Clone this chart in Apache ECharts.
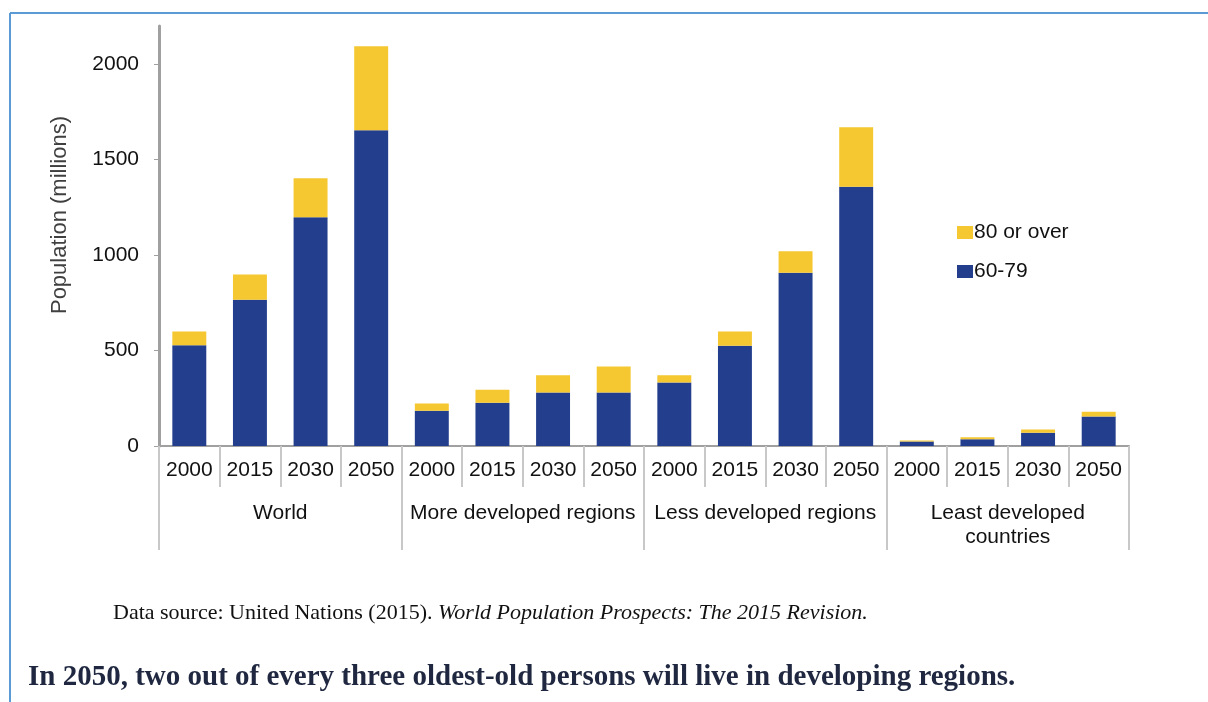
<!DOCTYPE html>
<html>
<head>
<meta charset="utf-8">
<script src="https://cdn.jsdelivr.net/npm/echarts@6/dist/echarts.min.js"></script>
<style>
  html, body { margin: 0; padding: 0; background: #fff; }
  #chart { width: 1208px; height: 702px; }
</style>
</head>
<body>
<div id="chart"></div>
<script>
// data (millions)
const years = ['2000', '2015', '2030', '2050', '2000', '2015', '2030', '2050',
               '2000', '2015', '2030', '2050', '2000', '2015', '2030', '2050'];
const regions = ['World', 'More developed regions', 'Less developed regions', 'Least developed\ncountries'];
const age60to79 = [528, 766, 1198, 1654, 184, 226, 280, 280, 333, 525, 907, 1358, 23, 35, 70, 154];
const age80plus = [72, 132, 204, 440, 38, 68, 91, 136, 38, 75, 113, 312, 6, 11, 17, 26];
const yTicks = [0, 500, 1000, 1500, 2000];

const blue = '#233e8c';
const yellow = '#f5c730';
const font = '"Liberation Sans", Arial, sans-serif';
const serif = '"Liberation Serif", "Times New Roman", serif';

const chart = echarts.init(document.getElementById('chart'));
chart.setOption({
  animation: false,
  textStyle: { fontFamily: font },
  grid: { left: 159, right: 79, top: 26, bottom: 256 },
  legend: {
    orient: 'vertical',
    left: 952,
    top: 217,
    itemWidth: 16,
    itemHeight: 13,
    itemGap: 18,
    icon: 'rect',
    data: ['80 or over', '60-79'],
    textStyle: { fontSize: 21, color: '#111', padding: [0, 0, 0, -4] }
  },
  xAxis: [
    {
      type: 'category',
      data: years,
      axisLine: { lineStyle: { color: '#a0a0a0', width: 2 } },
      axisTick: { show: true, interval: 0, length: 41, lineStyle: { color: '#c8c8c8', width: 2 } },
      axisLabel: { interval: 0, fontSize: 21, color: '#111', margin: 14 }
    },
    {
      type: 'category',
      data: regions,
      position: 'bottom',
      axisLine: { show: false },
      axisTick: { show: true, interval: 0, length: 104, lineStyle: { color: '#c8c8c8', width: 2 } },
      axisLabel: { interval: 0, fontSize: 21, lineHeight: 24, color: '#111', margin: 55 }
    }
  ],
  yAxis: {
    type: 'value',
    min: 0,
    max: 2200,
    axisLine: { show: true, lineStyle: { color: '#a0a0a0', width: 3 } },
    axisTick: { show: true, length: 5, customValues: yTicks, lineStyle: { color: '#a0a0a0', width: 1 } },
    axisLabel: {
      fontSize: 21, color: '#111', margin: 20, customValues: yTicks,
      formatter: v => String(v)
    },
    splitLine: { show: false }
  },
  series: [
    {
      name: '60-79', type: 'bar', stack: 'pop', barWidth: '56%',
      itemStyle: { color: blue }, data: age60to79
    },
    {
      name: '80 or over', type: 'bar', stack: 'pop', barWidth: '56%',
      itemStyle: { color: yellow }, data: age80plus
    }
  ],
  graphic: [
    // frame
    { type: 'line', shape: { x1: 10, y1: 13, x2: 1208, y2: 13 }, style: { stroke: '#5b9bd5', lineWidth: 2 } },
    { type: 'line', shape: { x1: 10, y1: 13, x2: 10, y2: 702 }, style: { stroke: '#5b9bd5', lineWidth: 2 } },
    {
      type: 'text', x: 60, y: 215, rotation: Math.PI / 2,
      style: {
        text: 'Population (millions)', font: '22px ' + font, fill: '#404040',
        align: 'center', verticalAlign: 'middle'
      }
    },
    {
      type: 'text', left: 113, top: 602,
      style: {
        text: '{n|Data source: United Nations (2015). }{i|World Population Prospects: The 2015 Revision.}',
        rich: {
          n: { fontFamily: serif, fontSize: 22, fill: '#111' },
          i: { fontFamily: serif, fontSize: 22, fontStyle: 'italic', fill: '#111' }
        }
      }
    },
    {
      type: 'text', left: 28, top: 663,
      style: {
        text: 'In 2050, two out of every three oldest-old persons will live in developing regions.',
        font: 'bold 29px ' + serif, fill: '#1f2840'
      }
    }
  ]
});
</script>
</body>
</html>
